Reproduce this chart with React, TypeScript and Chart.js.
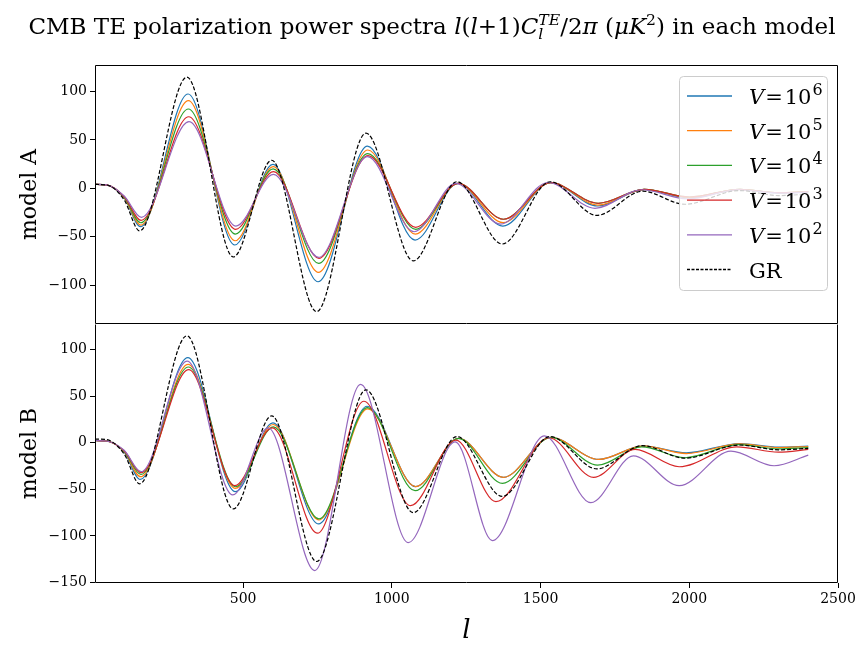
import React, { useEffect, useRef } from 'react';
import { Chart, registerables } from 'chart.js';

Chart.register(...registerables);

type Pt = [number, number];

// GR curve, the same in both panels: [l, value]
const grCurve: Pt[] = [
  [2, 4], [40, 3.5], [100, -12], [152, -44], [311, 115], [467, -71], [596, 29],
  [747, -127.5], [913, 57], [1072, -75], [1219, 6.8], [1371, -57.6], [1532, 6.8],
  [1689, -28], [1843, -3], [1985, -16.5], [2168, -2.3], [2300, -7.5], [2400, -6],
];

// model A
const topV6: Pt[] = [
  [2, 4], [40, 3.5], [100, -10], [155, -39.7], [315, 97.5], [472, -58.6], [600, 24.8],
  [752, -96.6], [918, 43.7], [1078, -53.5], [1222, 5], [1373, -39], [1533, 5.8],
  [1692, -18.3], [1848, -1], [2000, -10], [2170, -1], [2300, -5], [2400, -3.5],
];
const topV5: Pt[] = [
  [2, 4], [40, 3.5], [100, -9.5], [156, -38], [316, 90.6], [473, -54.2], [601, 22.4],
  [753, -86.9], [919, 39.6], [1079, -47.3], [1222, 5], [1374, -35.5], [1534, 5.8],
  [1693, -17.3], [1848, -1], [2000, -9.5], [2170, -1], [2300, -4.5], [2400, -3.5],
];
const topV4: Pt[] = [
  [2, 4], [40, 3.5], [100, -9], [156, -35.6], [316, 82], [474, -47.3], [601, 20],
  [754, -77.6], [919, 35.8], [1080, -42.4], [1223, 5], [1375, -32], [1534, 5.8],
  [1694, -15.5], [1849, -1], [2000, -9], [2170, -1], [2300, -4.5], [2400, -3.5],
];
const topV3: Pt[] = [
  [2, 4], [40, 3.5], [100, -8.5], [157, -33.1], [317, 74], [475, -42.4], [602, 17.2],
  [755, -72.4], [920, 33.7], [1080, -40.3], [1223, 5], [1375, -32], [1534, 5.8],
  [1694, -15.5], [1849, -1], [2000, -9], [2170, -1], [2300, -4.5], [2400, -3.5],
];
const topV2: Pt[] = [
  [2, 4], [40, 3.5], [100, -8], [158, -30], [318, 68.9], [476, -39], [602, 14.5],
  [754, -71.4], [918, 32.7], [1075, -44.9], [1215, 5], [1365, -37], [1525, 6],
  [1683, -20.7], [1840, -1.5], [1995, -11], [2165, -1.5], [2300, -5], [2400, -4],
];

// model B
const bottomV6: Pt[] = [
  [2, 2.5], [40, 2], [100, -10], [154, -39.3], [314, 91.5], [474, -52.5], [600, 21.4],
  [754, -87.1], [917, 39.3], [1080, -47.1], [1225, 4.7], [1375, -37.1], [1535, 5.8],
  [1696, -17.8], [1845, -3.2], [1990, -10.7], [2170, -0.7], [2300, -4.5], [2400, -3.5],
];
const bottomV5: Pt[] = [
  [2, 2.5], [40, 2], [100, -9.5], [155, -36.4], [315, 84.3], [474, -48.9], [601, 19.7],
  [755, -82.9], [919, 36.4], [1080, -47.1], [1225, 4.7], [1375, -37.1], [1535, 5.8],
  [1696, -17.8], [1845, -3.2], [1990, -11.5], [2170, -1.2], [2300, -5], [2400, -4],
];
const bottomV4: Pt[] = [
  [2, 2.5], [40, 2], [100, -9], [156, -33.9], [316, 81.5], [475, -47.2], [602, 17.2],
  [755, -81.8], [918, 37.9], [1078, -51.4], [1224, 4.7], [1372, -43.5], [1534, 5.8],
  [1692, -23.9], [1840, -4.3], [1985, -16], [2165, -1.9], [2300, -6.5], [2400, -5.2],
];
const bottomV3: Pt[] = [
  [2, 2.5], [40, 2], [100, -8.5], [157, -32], [317, 78.6], [472, -46], [598, 16],
  [750, -97.1], [906, 44.7], [1063, -67.5], [1215, 2.9], [1350, -63.2], [1528, 5.5],
  [1678, -37.1], [1818, -7.1], [1966, -25.7], [2160, -4.3], [2300, -10], [2400, -7.1],
];
const bottomV2: Pt[] = [
  [2, 2.5], [40, 2], [100, -8], [157, -31], [312, 87.9], [465, -56], [584, 16],
  [741, -137.2], [895, 62.9], [1055, -107.2], [1213, 1], [1338, -105], [1513, 7.5],
  [1669, -64.3], [1812, -13.9], [1966, -46], [2140, -8.9], [2285, -24.6], [2400, -13.2],
];

const powers = [6, 5, 4, 3, 2];
const colors = ['#1f77b4', '#ff7f0e', '#2ca02c', '#d62728', '#9467bd'];
const xTicks = [500, 1000, 1500, 2000, 2500];
const topTicks = [-100, -50, 0, 50, 100];
const bottomTicks = [-150, -100, -50, 0, 50, 100];

const SERIF = "'DejaVu Serif', serif";

const panelPlugin = {
  id: 'panel',
  afterDraw(chart: any, _args: any, opts: any) {
    const { ctx, chartArea } = chart;
    const l = Math.round(chartArea.left) + 0.5;
    const r = Math.round(chartArea.right) - 0.5;
    const t = Math.round(chartArea.top) + 0.5;
    const b = Math.round(chartArea.bottom) - 0.5;
    ctx.save();
    ctx.strokeStyle = '#000';
    ctx.lineWidth = 1;
    ctx.beginPath();
    if (opts.drawTop) {
      ctx.moveTo(l, t);
      ctx.lineTo(r, t);
    }
    ctx.moveTo(l, t);
    ctx.lineTo(l, b);
    ctx.lineTo(r, b);
    ctx.lineTo(r, t);
    ctx.stroke();

    if (opts.legend) {
      // legend box
      const bx = 679.5, by = 76.5, bw = 148, bh = 214, rad = 4;
      ctx.beginPath();
      ctx.moveTo(bx + rad, by);
      ctx.arcTo(bx + bw, by, bx + bw, by + bh, rad);
      ctx.arcTo(bx + bw, by + bh, bx, by + bh, rad);
      ctx.arcTo(bx, by + bh, bx, by, rad);
      ctx.arcTo(bx, by, bx + bw, by, rad);
      ctx.closePath();
      ctx.fillStyle = 'rgba(255,255,255,0.8)';
      ctx.fill();
      ctx.strokeStyle = '#cccccc';
      ctx.lineWidth = 1;
      ctx.stroke();

      for (let i = 0; i < 6; i++) {
        const y = 96 + i * 34.7;
        ctx.beginPath();
        ctx.moveTo(687, y);
        ctx.lineTo(732, y);
        ctx.lineWidth = 1.3;
        if (i < 5) {
          ctx.strokeStyle = colors[i];
          ctx.setLineDash([]);
        } else {
          ctx.strokeStyle = '#000';
          ctx.setLineDash([3, 1.5]);
        }
        ctx.stroke();
        ctx.setLineDash([]);

        const base = y + 8;
        ctx.fillStyle = '#000';
        ctx.textBaseline = 'alphabetic';
        ctx.textAlign = 'left';
        let x = 749;
        if (i < 5) {
          ctx.font = `italic 21px ${SERIF}`;
          ctx.fillText('V', x, base);
          x += ctx.measureText('V').width + 1;
          ctx.font = `21px ${SERIF}`;
          ctx.fillText('=', x, base);
          x += ctx.measureText('=').width + 2;
          ctx.fillText('10', x, base);
          x += ctx.measureText('10').width + 1;
          ctx.font = `16px ${SERIF}`;
          ctx.fillText(String(powers[i]), x, base - 9);
        } else {
          ctx.font = `21px ${SERIF}`;
          ctx.fillText('GR', x, base);
        }
      }
    }
    ctx.restore();
  },
};

interface PanelProps {
  curves: Pt[][];
  yMin: number;
  yMax: number;
  yTicks: number[];
  yTitle: string;
  showX: boolean;
  padTop: number;
}

const minus = (v: number) => (v < 0 ? '\u2212' + Math.abs(v) : String(v));

const Panel: React.FC<PanelProps> = ({ curves, yMin, yMax, yTicks, yTitle, showX, padTop }) => {
  const ref = useRef<HTMLCanvasElement | null>(null);

  useEffect(() => {
    if (!ref.current) return;
    const datasets: any[] = curves.map((c, i) => ({
      label: `V=10^${powers[i]}`,
      data: c.map(([x, y]) => ({ x, y })),
      borderColor: colors[i],
      borderWidth: 1.2,
      pointRadius: 0,
      cubicInterpolationMode: 'monotone',
      fill: false,
      order: 5 - i,
    }));
    datasets.push({
      label: 'GR',
      data: grCurve.map(([x, y]) => ({ x, y })),
      borderColor: '#000',
      borderWidth: 1.2,
      borderDash: [4, 2],
      pointRadius: 0,
      cubicInterpolationMode: 'monotone',
      fill: false,
      order: -1,
    });

    const tickGrid = {
      display: true,
      drawOnChartArea: false,
      drawTicks: true,
      tickLength: 5,
      tickColor: '#000',
    };

    const chart = new Chart(ref.current, {
      type: 'line',
      data: { datasets },
      plugins: [panelPlugin],
      options: {
        animation: false,
        responsive: false,
        maintainAspectRatio: false,
        layout: { padding: { left: 0, right: 26, top: padTop, bottom: 0 } },
        plugins: {
          legend: { display: false },
          tooltip: { enabled: false },
          panel: { drawTop: !showX, legend: !showX },
        } as any,
        scales: {
          x: {
            type: 'linear',
            min: 2,
            max: 2500,
            display: showX,
            afterBuildTicks: (axis: any) => {
              axis.ticks = xTicks.map((v) => ({ value: v }));
            },
            afterFit: (axis: any) => {
              if (showX) axis.height = 65;
              axis.paddingLeft = 0;
              axis.paddingRight = 0;
            },
            grid: tickGrid,
            border: { display: false },
            ticks: {
              color: '#000',
              font: { family: SERIF, size: 14 },
              padding: 3,
              maxRotation: 0,
              autoSkip: false,
              callback: (v: any) => String(v),
            },
            title: {
              display: true,
              text: 'l',
              color: '#000',
              font: { family: SERIF, size: 26, style: 'italic' },
              padding: { top: 0, bottom: 1 },
            },
          },
          y: {
            type: 'linear',
            min: yMin,
            max: yMax,
            afterBuildTicks: (axis: any) => {
              axis.ticks = yTicks.map((v) => ({ value: v }));
            },
            afterFit: (axis: any) => {
              axis.width = 95;
              axis.paddingTop = 0;
              axis.paddingBottom = 0;
            },
            grid: tickGrid,
            border: { display: false },
            ticks: {
              color: '#000',
              font: { family: SERIF, size: 14 },
              padding: 3,
              autoSkip: false,
              callback: (v: any) => minus(Number(v)),
            },
            title: {
              display: true,
              text: yTitle,
              color: '#000',
              font: { family: SERIF, size: 22 },
              padding: { top: 17, bottom: 0 },
            },
          },
        },
      },
    });

    return () => {
      chart.destroy();
    };
  }, [curves, yMin, yMax, yTicks, yTitle, showX, padTop]);

  return <canvas ref={ref} width={864} height={324} style={{ display: 'block' }} />;
};

const topCurves = [topV6, topV5, topV4, topV3, topV2];
const bottomCurves = [bottomV6, bottomV5, bottomV4, bottomV3, bottomV2];

const App: React.FC = () => {
  return (
    <div
      style={{
        position: 'fixed',
        left: 0,
        top: 0,
        width: 864,
        height: 648,
        background: '#fff',
        overflow: 'hidden',
      }}
    >
      <div style={{ position: 'absolute', left: 0, top: 0 }}>
        <Panel curves={topCurves} yMin={-140.3} yMax={127.5} yTicks={topTicks} yTitle="model A" showX={false} padTop={65} />
      </div>
      <div style={{ position: 'absolute', left: 0, top: 324 }}>
        <Panel curves={bottomCurves} yMin={-150.6} yMax={127.7} yTicks={bottomTicks} yTitle="model B" showX={true} padTop={0} />
      </div>
      <div
        style={{
          position: 'absolute',
          left: 0,
          top: 11,
          width: 864,
          textAlign: 'center',
          fontFamily: SERIF,
          fontSize: 23,
          lineHeight: '30px',
          color: '#000',
          whiteSpace: 'nowrap',
        }}
      >
        CMB TE polarization power spectra <i>l</i>(<i>l</i>+1)<i>C</i>
        <span
          style={{
            display: 'inline-block',
            fontSize: '0.68em',
            lineHeight: '0.95em',
            verticalAlign: '-0.35em',
            textAlign: 'left',
          }}
        >
          <i>TE</i>
          <br />
          <i>l</i>
        </span>
        /2<i>π</i> (<i>μK</i>
        <sup style={{ fontSize: '0.68em', lineHeight: 0 }}>2</sup>) in each model
      </div>
    </div>
  );
};

export default App;
